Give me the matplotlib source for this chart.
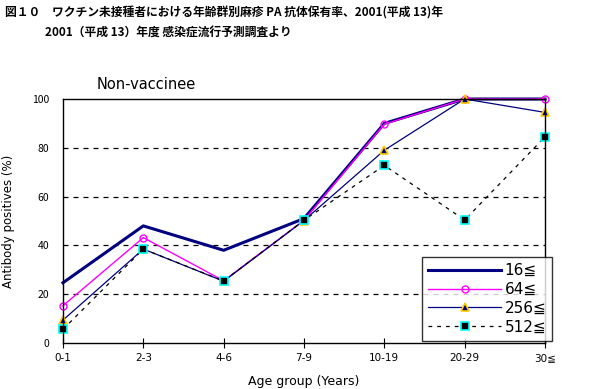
import matplotlib.pyplot as plt

plt.rcParams['font.family'] = ['Noto Sans CJK JP', 'DejaVu Sans']

# age groups and antibody positive rates (%) by PA titer threshold
ages = ['0-1', '2-3', '4-6', '7-9', '10-19', '20-29', '30≦']
t16 = [24.7, 48, 38, 51, 90, 100, 100]
t64 = [15.3, 43.2, 25.5, 50.3, 89.7, 100, 100]
t256 = [9.4, 38.5, 25.3, 50.2, 79, 100, 94.5]
t512 = [5.6, 38.5, 25.4, 50.3, 72.8, 50.4, 84.5]
labels = ['16≦', '64≦', '256≦', '512≦']

fig = plt.figure(figsize=(5.93, 3.89), dpi=100)
ax = fig.add_axes([63/593, 1 - 343/389, (545 - 63)/593, (343 - 99)/389])

x = list(range(len(ages)))
ax.plot(x, t16, color='#000080', lw=2.2, label=labels[0], clip_on=False)
ax.plot(x, t64, color='#ff00ff', lw=1.0, marker='o', ms=5,
        mfc='none', mec='#ff00ff', label=labels[1], clip_on=False)
ax.plot(x, t256, color='#000080', lw=0.9, marker='^', ms=6,
        mfc='#000080', mec='#ffcc00', mew=1.2, label=labels[2], clip_on=False)
ax.plot(x, t512, color='black', lw=0.9, ls=(0, (3, 4)), marker='s', ms=5.5,
        mfc='black', mec='#00ffff', mew=1.2, label=labels[3], clip_on=False)

ax.set_xlim(0, len(ages) - 1)
ax.set_ylim(0, 100)
ax.set_xticks(x)
ax.set_xticklabels(ages, family='DejaVu Sans')
ax.set_yticks([0, 20, 40, 60, 80, 100])
ax.tick_params(axis='x', direction='inout', length=7, labelsize=7.5, pad=4)
ax.tick_params(axis='y', length=0, labelsize=7.5, pad=10)
for s in ax.spines.values():
    s.set_linewidth(1.0)
for yv in [20, 40, 60, 80]:
    ax.axhline(yv, color='black', lw=0.9, ls=(0, (4, 4)), zorder=0)

ax.set_xlabel('Age group (Years)', family='DejaVu Sans', fontsize=9, labelpad=8)
ax.set_ylabel('Antibody positives (%)', family='DejaVu Sans', fontsize=8.5, labelpad=12)
ax.text(0.07, 1.03, 'Non-vaccinee', transform=ax.transAxes, family='DejaVu Sans',
        fontsize=10.5, va='bottom', ha='left')

leg = ax.legend(loc='upper left', bbox_to_anchor=((422 - 63) / 482, (343 - 257) / 244),
                frameon=True, fancybox=False, edgecolor='black',
                handlelength=4.8, labelspacing=0.25, borderpad=0.4,
                handletextpad=0.2, borderaxespad=0, prop={'family': 'DejaVu Sans', 'size': 11})
leg.get_frame().set_linewidth(1.0)
leg.set_zorder(5)

fig.text(5/593, 1 - 13/389, '図１０　ワクチン未接種者における年齢群別麻疹 PA 抗体保有率、2001(平成 13)年',
         fontsize=8.5, fontweight='bold', va='center', ha='left')
fig.text(45/593, 1 - 32/389, '2001（平成 13）年度 感染症流行予測調査より',
         fontsize=8.5, fontweight='bold', va='center', ha='left')

fig.savefig('out.png', dpi=100)
